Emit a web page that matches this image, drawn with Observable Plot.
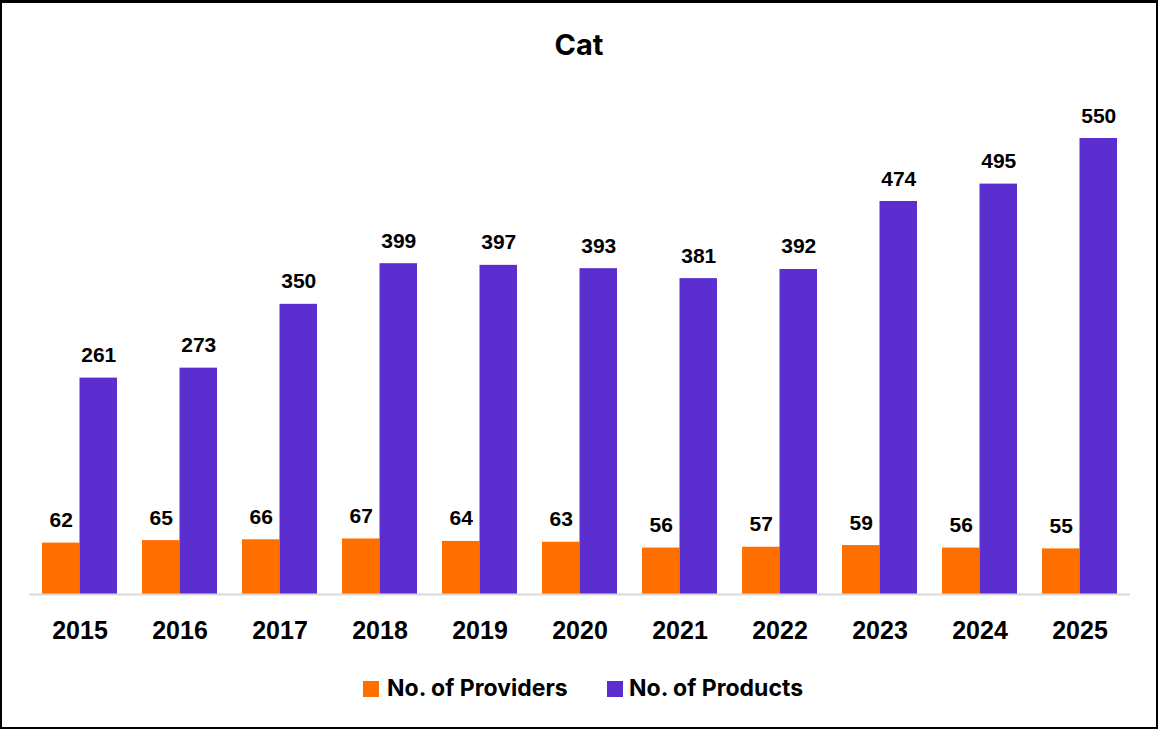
<!DOCTYPE html>
<html>
<head>
<meta charset="utf-8">
<script src="https://cdn.jsdelivr.net/npm/d3@7"></script>
<script src="https://cdn.jsdelivr.net/npm/@observablehq/plot@0.6"></script>
<style>
  html, body { margin: 0; padding: 0; background: #fff; }
  #wrap { position: relative; width: 1158px; height: 729px; overflow: hidden; background: #fff; }
  #frame { position: absolute; left: 0; top: 0; width: 1158px; height: 729px; box-sizing: border-box;
           border: 2px solid #000; border-top-width: 3px; pointer-events: none; }
  #title { position: absolute; left: 0; width: 1158px; top: 28px; text-align: center;
           font-family: Inter, "Liberation Sans", sans-serif; font-weight: 700; font-size: 29px; line-height: 34px; color: #000; }
  #chart { position: absolute; left: 0; top: 0; }
  .lg { position: absolute; top: 674px; height: 28px; font-family: Inter, "Liberation Sans", sans-serif;
        font-weight: 700; font-size: 23px; line-height: 28px; color: #000; white-space: nowrap; }
  .sw { position: absolute; width: 16px; height: 16px; top: 681px; }
</style>
</head>
<body>
<div id="wrap">
  <div id="chart"></div>
  <div id="title">Cat</div>
  <div class="sw" id="sw1"></div><div class="lg" id="lg1"></div>
  <div class="sw" id="sw2"></div><div class="lg" id="lg2"></div>
  <div id="frame"></div>
</div>
<script>
const years = ["2015","2016","2017","2018","2019","2020","2021","2022","2023","2024","2025"];
const providers = [62, 65, 66, 67, 64, 63, 56, 57, 59, 56, 55];
const products = [261, 273, 350, 399, 397, 393, 381, 392, 474, 495, 550];
const seriesNames = ["No. of Providers", "No. of Products"];
const colors = ["#ff6f00", "#5a2ecf"];

const data = years.map((y, i) => ({year: y, providers: providers[i], products: products[i]}));

const half = 37.5;
const chart = Plot.plot({
  width: 1158,
  height: 660,
  marginLeft: 29,
  marginRight: 28,
  marginTop: 138,
  marginBottom: 66,
  style: {fontFamily: "'Liberation Sans', Arial, sans-serif", color: "#000", background: "transparent"},
  x: {domain: years, paddingInner: 0.25, paddingOuter: 0.125, label: null},
  y: {domain: [0, 550], axis: null},
  marks: [
    Plot.barY(data, {x: "year", y: "providers", fill: colors[0], insetRight: half}),
    Plot.barY(data, {x: "year", y: "products", fill: colors[1], insetLeft: half}),
    Plot.ruleY([0], {stroke: "#d9d9d9", strokeWidth: 2}),
    Plot.text(data, {x: "year", y: "providers", text: d => String(d.providers), dx: -half / 2, dy: -16,
      lineAnchor: "bottom", fontSize: 21, fontWeight: "bold", fill: "#000"}),
    Plot.text(data, {x: "year", y: "products", text: d => String(d.products), dx: half / 2, dy: -16,
      lineAnchor: "bottom", fontSize: 21, fontWeight: "bold", fill: "#000"}),
    Plot.axisX({tickSize: 0, tickPadding: 27, fontSize: 25, fontWeight: "bold", fill: "#000", label: null})
  ]
});
document.getElementById("chart").appendChild(chart);

document.getElementById("sw1").style.cssText += `left:363px;background:${colors[0]}`;
document.getElementById("sw2").style.cssText += `left:607px;background:${colors[1]}`;
const l1 = document.getElementById("lg1"); l1.textContent = seriesNames[0]; l1.style.left = "387px";
const l2 = document.getElementById("lg2"); l2.textContent = seriesNames[1]; l2.style.left = "629px";
</script>
</body>
</html>
